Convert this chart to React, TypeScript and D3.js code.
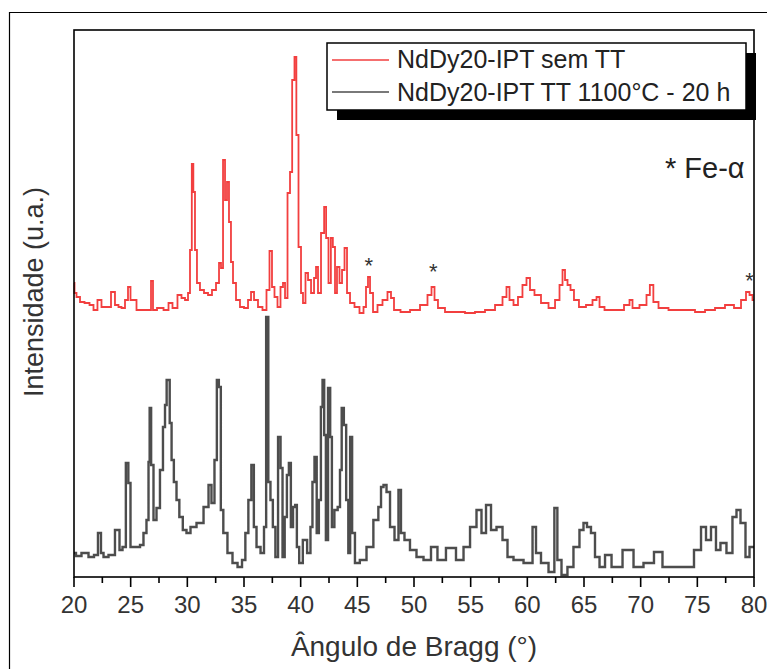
import { useMemo } from 'react';
import * as d3 from 'd3';

// 2-theta positions (deg) and intensities (a.u.)
const redTheta = [
  20.0, 20.09, 20.35, 20.71, 21.15, 21.59, 21.85, 22.29, 22.56, 23.09, 23.44, 23.79, 24.06, 24.32, 24.68,
  24.85, 25.12, 25.38, 25.65, 26.44, 26.71, 26.88, 27.06, 27.59, 28.21, 28.47, 28.91, 29.35, 29.62, 29.97,
  30.15, 30.32, 30.47, 30.59, 30.76, 30.94, 31.29, 31.65, 32.0, 32.35, 32.71, 32.88, 33.06, 33.24, 33.41,
  33.59, 33.76, 33.94, 34.12, 34.47, 34.82, 35.18, 35.53, 35.71, 36.06, 36.41, 36.85, 37.12, 37.38, 37.56,
  37.82, 38.09, 38.35, 38.53, 38.71, 38.97, 39.15, 39.35, 39.56, 39.68, 39.94, 40.12, 40.29, 40.56, 40.74,
  41.09, 41.27, 41.44, 41.62, 41.97, 42.17, 42.32, 42.59, 42.74, 42.94, 43.12, 43.29, 43.56, 43.74, 44.0,
  44.18, 44.53, 44.97, 45.41, 45.68, 45.85, 46.03, 46.21, 46.56, 47.0, 47.44, 47.88, 48.06, 48.41, 49.21,
  50.09, 50.97, 51.41, 51.68, 51.94, 52.29, 53.18, 54.06, 54.94, 55.82, 56.71, 57.59, 58.03, 58.29, 58.56,
  59.0, 59.35, 59.79, 60.06, 60.41, 60.85, 61.56, 62.18, 62.71, 62.97, 63.24, 63.41, 63.68, 63.94, 64.29,
  64.82, 65.53, 65.97, 66.24, 66.5, 67.12, 68.18, 68.88, 69.15, 69.41, 70.38, 70.65, 70.97, 71.27, 71.88,
  73.03, 74.35, 75.24, 76.12, 77.0, 77.88, 78.59, 79.12, 79.47, 79.74, 80.0,
];
const redIntensity = [
  294, 284, 280, 275, 274, 272, 267, 277, 270, 270, 285, 272, 270, 269, 277,
  290, 277, 277, 267, 267, 267, 296, 267, 269, 267, 274, 269, 282, 279, 277,
  284, 327, 413, 385, 327, 294, 287, 284, 282, 287, 294, 314, 309, 417, 377,
  395, 355, 315, 294, 277, 270, 269, 277, 285, 277, 270, 267, 287, 326, 290,
  280, 270, 290, 294, 279, 384, 405, 497, 520, 442, 330, 284, 274, 304, 297,
  284, 299, 310, 284, 344, 370, 339, 294, 339, 330, 284, 310, 294, 307, 329,
  284, 274, 270, 264, 270, 290, 300, 284, 265, 272, 277, 285, 279, 267, 265,
  267, 272, 282, 290, 277, 269, 265, 265, 264, 265, 267, 272, 280, 290, 277,
  272, 280, 292, 299, 287, 282, 274, 269, 277, 292, 307, 297, 292, 287, 277,
  270, 272, 277, 280, 270, 267, 267, 272, 277, 269, 272, 282, 292, 275, 269,
  267, 267, 265, 267, 269, 272, 269, 277, 285, 282, 277,
];

const blackTheta = [
  20.0, 20.35, 20.97, 21.59, 21.94, 22.29, 22.47, 22.74, 23.35, 23.88, 24.15, 24.41, 24.74, 24.85, 25.12,
  25.65, 26.0, 26.26, 26.53, 26.62, 26.73, 26.88, 27.15, 27.41, 27.76, 27.94, 28.12, 28.23, 28.38, 28.51,
  28.71, 28.91, 29.18, 29.41, 29.79, 30.06, 30.5, 31.12, 31.74, 32.0, 32.26, 32.53, 32.68, 32.88, 33.03,
  33.32, 33.76, 34.21, 34.65, 35.0, 35.24, 35.53, 35.77, 35.97, 36.24, 36.68, 36.85, 37.06, 37.23, 37.44,
  37.65, 37.89, 38.12, 38.33, 38.47, 38.71, 38.86, 39.06, 39.21, 39.44, 39.59, 39.74, 40.0, 40.38, 40.76,
  40.97, 41.11, 41.33, 41.5, 41.71, 41.86, 42.0, 42.15, 42.3, 42.53, 42.68, 42.83, 43.12, 43.41, 43.53,
  43.71, 43.91, 44.12, 44.29, 44.44, 44.64, 44.94, 45.5, 46.12, 46.71, 47.0, 47.18, 47.44, 47.71, 48.06,
  48.5, 48.76, 48.94, 49.38, 49.91, 50.53, 51.15, 51.85, 52.29, 53.35, 54.06, 54.68, 55.21, 55.82, 56.09,
  56.62, 56.97, 57.59, 58.03, 58.47, 59.09, 60.24, 60.68, 60.85, 61.56, 62.18, 62.59, 62.71, 63.32, 63.76,
  64.38, 64.82, 65.09, 65.44, 65.79, 66.15, 66.59, 67.12, 67.74, 69.06, 69.68, 70.82, 71.53, 72.32, 74.35,
  75.06, 75.59, 75.94, 76.47, 76.82, 77.26, 77.88, 78.32, 78.59, 79.03, 79.47, 79.74, 80.0,
];
const blackIntensity = [
  24, 21, 24, 20, 22, 44, 24, 20, 22, 47, 27, 30, 114, 94, 30,
  30, 32, 44, 57, 115, 169, 112, 57, 69, 107, 150, 172, 197, 197, 154,
  117, 95, 77, 60, 47, 44, 50, 54, 70, 92, 74, 117, 197, 190, 67,
  44, 24, 14, 10, 17, 44, 77, 112, 50, 30, 24, 50, 260, 95, 77,
  50, 20, 140, 109, 20, 60, 102, 114, 50, 70, 72, 30, 14, 37, 24,
  50, 95, 120, 44, 77, 170, 197, 142, 37, 189, 140, 50, 67, 70, 107,
  169, 152, 77, 24, 140, 44, 14, 17, 30, 57, 70, 90, 92, 85, 50,
  37, 87, 44, 37, 27, 20, 17, 30, 17, 29, 17, 30, 50, 67, 44,
  72, 47, 50, 37, 20, 17, 14, 50, 24, 14, 5, 69, 17, 2, 10,
  30, 47, 54, 50, 44, 20, 10, 22, 10, 27, 10, 14, 25, 10, 10,
  27, 50, 37, 50, 27, 34, 24, 60, 67, 54, 20, 30, 30,
];

const xTicks = [20, 25, 30, 35, 40, 45, 50, 55, 60, 65, 70, 75, 80];
const feAlphaPeaks = [46.0, 51.7, 79.6];
const feAlphaHeights = [315, 309, 300];

const seriesNames = ['NdDy20-IPT sem TT', 'NdDy20-IPT TT 1100°C - 20 h'];
const seriesColors = ['#f23f3f', '#4d4d4d'];

const W = 767;
const H = 669;
const plot = { left: 74, right: 754, top: 30, bottom: 577 };
const font = '"Liberation Sans", Arial, sans-serif';

const App = () => {
  const x = d3.scaleLinear().domain([20, 80]).range([plot.left, plot.right]);
  const y = d3.scaleLinear().domain([0, 547]).range([plot.bottom, plot.top]);

  const paths = useMemo(() => {
    const line = d3.line<[number, number]>()
      .x((d) => x(d[0]))
      .y((d) => y(d[1]))
      .curve(d3.curveStep);
    const red = redTheta.map((t, i) => [t, redIntensity[i]] as [number, number]);
    const black = blackTheta.map((t, i) => [t, blackIntensity[i]] as [number, number]);
    return [line(red), line(black)];
  }, []);

  const minorTicks = d3.range(22.5, 80, 5);

  return (
    <svg width={W} height={H} style={{ position: 'absolute', left: 0, top: 0, background: '#fff' }}>
      <rect x={0} y={0} width={W} height={H} fill="#fff" />
      {/* outer frame */}
      <path d={`M9.5,${H + 2} V12.5 H${W + 2}`} fill="none" stroke="#000" strokeWidth={1.2} />

      {/* data */}
      <path d={paths[1] ?? ''} fill="none" stroke={seriesColors[1]} strokeWidth={2.4} />
      <path d={paths[0] ?? ''} fill="none" stroke={seriesColors[0]} strokeWidth={1.8} />

      {/* plot box */}
      <rect
        x={plot.left}
        y={plot.top}
        width={plot.right - plot.left}
        height={plot.bottom - plot.top}
        fill="none"
        stroke="#000"
        strokeWidth={1.6}
      />

      {/* x ticks */}
      {xTicks.map((t) => (
        <g key={t}>
          <line x1={x(t)} x2={x(t)} y1={plot.bottom} y2={plot.bottom + 10} stroke="#000" strokeWidth={1.6} />
          <text x={x(t)} y={613} textAnchor="middle" fontSize={24} fontFamily={font} fill="#333">
            {t}
          </text>
        </g>
      ))}
      {minorTicks.map((t) => (
        <line key={t} x1={x(t)} x2={x(t)} y1={plot.bottom} y2={plot.bottom + 6} stroke="#000" strokeWidth={1.6} />
      ))}

      {/* axis titles */}
      <text x={(plot.left + plot.right) / 2} y={656} textAnchor="middle" fontSize={28} fontFamily={font} fill="#333">
        Ângulo de Bragg (°)
      </text>
      <text
        transform={`translate(43, 292) rotate(-90)`}
        textAnchor="middle"
        fontSize={27}
        fontFamily={font}
        fill="#333"
      >
        Intensidade (u.a.)
      </text>

      {/* Fe-alpha markers */}
      {feAlphaPeaks.map((p, i) => (
        <text key={p} x={x(p)} y={y(feAlphaHeights[i]) + 11} textAnchor="middle" fontSize={22} fontFamily={font} fill="#333">
          *
        </text>
      ))}
      <text x={665} y={178} fontSize={29} fontFamily={font} fill="#222">
        * Fe-α
      </text>

      {/* legend */}
      <rect x={337} y={53} width={419} height={67} fill="#000" />
      <rect x={327} y={43} width={419} height={67} fill="#fff" stroke="#000" strokeWidth={1.5} />
      {seriesNames.map((name, i) => (
        <g key={name}>
          <line x1={332} x2={389} y1={60 + i * 32} y2={60 + i * 32} stroke={seriesColors[i]} strokeWidth={1.5} />
          <text x={397} y={68 + i * 33} fontSize={25} fontFamily={font} fill="#222">
            {name}
          </text>
        </g>
      ))}
    </svg>
  );
};

export default App;
